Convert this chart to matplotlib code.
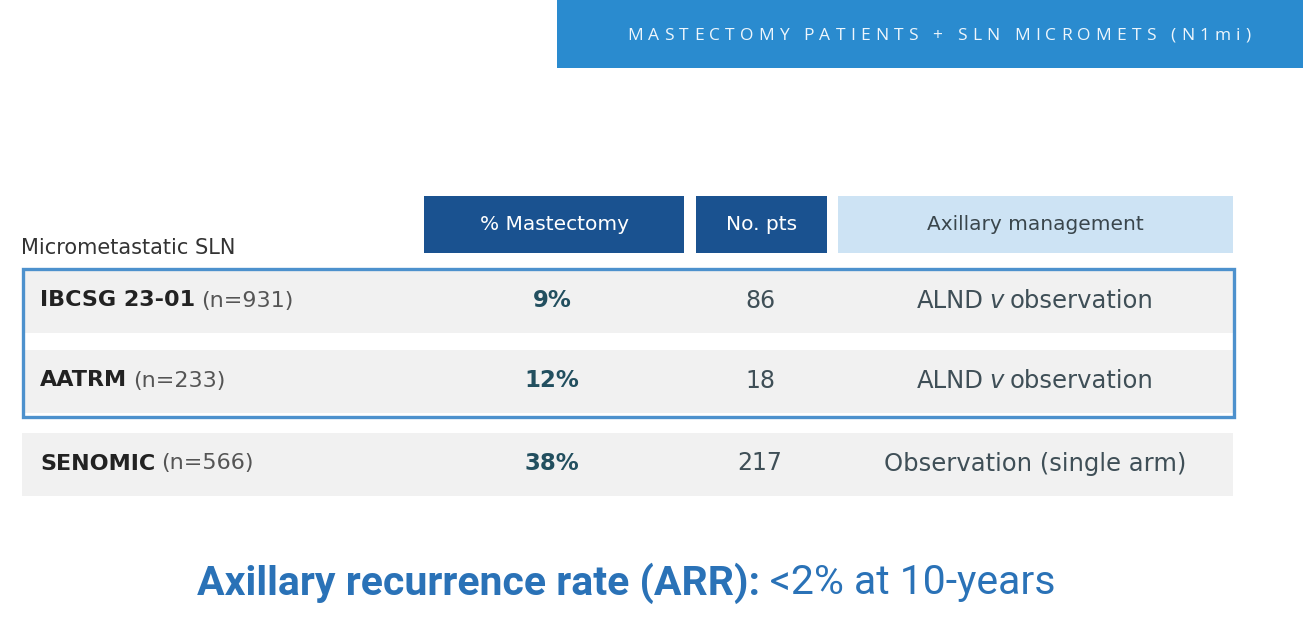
import matplotlib
matplotlib.use("Agg")
import matplotlib.pyplot as plt
from matplotlib.patches import Rectangle

# table content
banner_title = "MASTECTOMY PATIENTS + SLN MICROMETS (N1mi)"
row_header = "Micrometastatic SLN"
col_headers = ["% Mastectomy", "No. pts", "Axillary management"]
studies = ["IBCSG 23-01", "AATRM", "SENOMIC"]
n_total = [931, 233, 566]
pct_mastectomy = [9, 12, 38]
n_pts = [86, 18, 217]
management = [("ALND", "v", "observation"),
              ("ALND", "v", "observation"),
              ("Observation (single arm)", None, None)]
footer_bold = "Axillary recurrence rate (ARR):"
footer_rest = "<2% at 10-years"

W, H = 1303, 617
fig = plt.figure(figsize=(W / 100, H / 100), dpi=100)
ax = fig.add_axes([0, 0, 1, 1])
ax.set_xlim(0, W)
ax.set_ylim(H, 0)
ax.axis("off")
fig.canvas.draw()
renderer = fig.canvas.get_renderer()

BODY = "DejaVu Sans"


def text_width(s, **kw):
    t = ax.text(0, 0, s, **kw)
    w = t.get_window_extent(renderer).width
    t.remove()
    return w


def draw_runs(x, y, runs, ha="left", gap=6):
    # runs: list of (string, kwargs); drawn one after another
    widths = [text_width(s, **kw) for s, kw in runs]
    total = sum(widths) + gap * (len(runs) - 1)
    x0 = x - total / 2 if ha == "center" else x
    for (s, kw), w in zip(runs, widths):
        ax.text(x0, y, s, ha="left", va="center", **kw)
        x0 += w + gap


def draw_tracked(xc, y, s, tracking, **kw):
    space = text_width("n", **kw) * 0.4
    widths = [text_width(c, **kw) if c != " " else space for c in s]
    total = sum(widths) + tracking * (len(s) - 1)
    x0 = xc - total / 2
    for c, w in zip(s, widths):
        if c != " ":
            ax.text(x0, y, c, ha="left", va="center", **kw)
        x0 += w + tracking


# banner
ax.add_patch(Rectangle((557, 0), W - 557, 68, color="#2a8bcf", lw=0))
draw_tracked(939, 36, banner_title, 5.2, fontsize=12.5, family="Open Sans",
             color="#eef6fc")

# column headers
header_boxes = [(424, 684), (696, 827), (838, 1233)]
header_fill = ["#1a5290", "#1a5290", "#cde3f4"]
header_text = ["#ffffff", "#ffffff", "#3a464c"]
for (x0, x1), fc, tc, lab in zip(header_boxes, header_fill, header_text, col_headers):
    ax.add_patch(Rectangle((x0, 196), x1 - x0, 57, color=fc, lw=0))
    ax.text((x0 + x1) / 2, 224, lab, ha="center", va="center", fontsize=14.5,
            family=BODY, color=tc)

ax.text(21, 248, row_header, ha="left", va="center", fontsize=15,
        family=BODY, color="#333333")

# rows
row_tops = [270, 350, 433]
row_h = 63
for i, top in enumerate(row_tops):
    ax.add_patch(Rectangle((22, top), 1233 - 22, row_h, color="#f1f1f1", lw=0))
    yc = top + row_h / 2 - 1
    draw_runs(40, yc, [(studies[i], dict(fontsize=16, family=BODY,
                                         weight="bold", color="#222222")),
                       (f"(n={n_total[i]})", dict(fontsize=16, family=BODY,
                                                  color="#555555"))], gap=6)
    ax.text(552, yc, f"{pct_mastectomy[i]}%", ha="center", va="center",
            fontsize=16.5, family=BODY, weight="bold", color="#224f5f")
    ax.text(760, yc, str(n_pts[i]), ha="center", va="center", fontsize=17,
            family=BODY, color="#3f4f57")
    a, b, c = management[i]
    mk = dict(fontsize=17.5, family=BODY, color="#3f4f57")
    if b is None:
        ax.text(1035, yc, a, ha="center", va="center", **mk)
    else:
        draw_runs(1035, yc, [(a, mk), (b, dict(mk, style="italic")), (c, mk)],
                  ha="center", gap=6)

# highlight the two randomised trials
ax.add_patch(Rectangle((23, 269), 1234 - 23, 148, fill=False,
                       edgecolor="#4d91cd", lw=2.4))

# footer
draw_runs(626, 583, [(footer_bold, dict(fontsize=29.5, family="Roboto",
                                        weight="bold", color="#2a72b7")),
                     (footer_rest, dict(fontsize=29.5, family="Roboto",
                                        color="#2a72b7"))], ha="center", gap=10)

fig.savefig("out.png", dpi=100)
